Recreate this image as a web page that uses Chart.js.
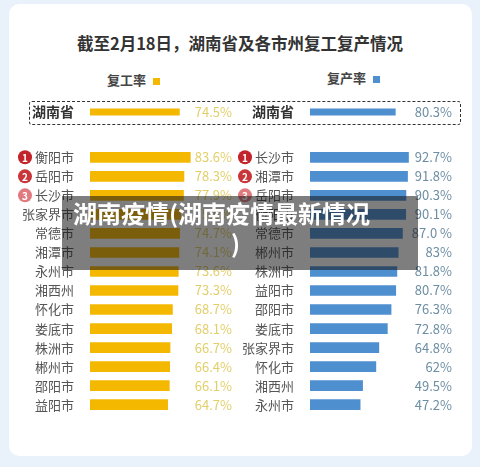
<!DOCTYPE html>
<html><head><meta charset="utf-8">
<script src="https://cdn.jsdelivr.net/npm/chart.js@4"></script>
<style>
body{margin:0;background:#e9f1fa;font-family:"Noto Sans CJK SC",sans-serif}
#wrap{position:relative;width:480px;height:467px;overflow:hidden}
#panel{position:absolute;left:9px;top:4px;width:463px;height:452px;background:#fff;border-radius:10px}
canvas{position:absolute}
.t{position:absolute;white-space:nowrap}
</style></head><body>
<div id="wrap">
<div id="panel"></div>
<div class="t" style="left:0;width:480px;top:31px;text-align:center;font-size:16.5px;font-weight:bold;color:#333">截至2月18日，湖南省及各市州复工复产情况</div>
<div class="t" style="left:107px;top:70px;font-size:13px;font-weight:bold;color:#444">复工率 <span style="display:inline-block;width:7px;height:7px;background:#f5b800;margin-left:4px"></span></div>
<div class="t" style="left:327px;top:68px;font-size:13px;font-weight:bold;color:#444">复产率 <span style="display:inline-block;width:7px;height:7px;background:#4e8fd0;margin-left:4px"></span></div>
<div style="position:absolute;left:29px;top:101px;width:430px;height:22px;border:1px dashed #333;border-radius:3px"></div>
<canvas id="lt" style="left:0;top:92px" width="240" height="40"></canvas>
<canvas id="rt" style="left:220px;top:92px" width="260" height="40"></canvas>
<canvas id="lc" style="left:0;top:132px" width="240" height="298"></canvas>
<canvas id="rc" style="left:220px;top:132px" width="260" height="298"></canvas>
<div style="position:absolute;left:62px;top:196px;width:356px;height:74px;background:rgba(20,20,20,0.55)"></div>
<div class="t" style="left:73px;top:198px;font-size:24px;font-weight:bold;color:#fff;line-height:30px">湖南疫情(湖南疫情最新情况<br><span style="margin-left:158px">)</span></div>
</div>
<script>
const provLabel = ['湖南省'];
const workProv = [74.5];
const prodProv = [80.3];
const workCities = ['衡阳市','岳阳市','长沙市','张家界市','常德市','湘潭市','永州市','湘西州','怀化市','娄底市','株洲市','郴州市','邵阳市','益阳市'];
const workRates = [83.6, 78.3, 77.9, 75.5, 74.7, 74.1, 73.6, 73.3, 68.7, 68.1, 66.7, 66.4, 66.1, 64.7];
const prodCities = ['长沙市','湘潭市','岳阳市','衡阳市','常德市','郴州市','株洲市','益阳市','邵阳市','娄底市','张家界市','怀化市','湘西州','永州市'];
const prodRates = [92.7, 91.8, 90.3, 90.1, 87.0, 83, 81.8, 80.7, 76.3, 72.8, 64.8, 62, 49.5, 47.2];
const prodText = ['92.7%','91.8%','90.3%','90.1%','87.0 %','83%','81.8%','80.7%','76.3%','72.8%','64.8%','62%','49.5%','47.2%'];

const badgeColors = ['#c3242b','#c8363a','#e17a7f'];

const extras = {
  id: 'extras',
  afterDatasetsDraw(chart, args, opts) {
    const {ctx} = chart;
    const meta = chart.getDatasetMeta(0);
    ctx.save();
    ctx.font = '13px "Noto Sans CJK SC"';
    ctx.textBaseline = 'middle';
    meta.data.forEach((bar, i) => {
      ctx.textAlign = 'right';
      ctx.fillStyle = opts.valColor;
      const v = chart.data.datasets[0].data[i];
      ctx.fillText(opts.texts ? opts.texts[i] : v + '%', opts.valX, bar.y);
      if (opts.badges && i < 3) {
        ctx.beginPath();
        ctx.arc(25, bar.y, 7, 0, Math.PI * 2);
        ctx.fillStyle = badgeColors[i];
        ctx.fill();
        ctx.fillStyle = '#fff';
        ctx.textAlign = 'center';
        ctx.font = 'bold 10px "Noto Sans CJK SC"';
        ctx.fillText(String(i + 1), 25, bar.y + 0.5);
        ctx.font = '13px "Noto Sans CJK SC"';
      }
    });
    ctx.restore();
  }
};

function makeChart(id, labels, values, color, max, valX, valColor, badges, bold, texts) {
  new Chart(document.getElementById(id), {
    type: 'bar',
    data: {labels, datasets: [{data: values, backgroundColor: color, barThickness: 10, borderWidth: 0}]},
    options: {
      indexAxis: 'y', responsive: false, animation: false,
      layout: {padding: 0},
      scales: {
        x: {display: false, min: 0, max},
        y: {
          grid: {display: false}, border: {display: false},
          afterFit(s) { s.width = 90; },
          ticks: {color: bold ? '#333' : '#555', padding: 8, autoSkip: false,
            font: {size: bold ? 14 : 13, weight: bold ? 'bold' : 'normal', family: '"Noto Sans CJK SC"'}}
        }
      },
      plugins: {legend: {display: false}, tooltip: {enabled: false},
        extras: {valX, valColor, badges, texts}}
    },
    plugins: [extras]
  });
}

makeChart('lt', provLabel, workProv, '#f5b800', 125, 232, '#e2cf6a', false, true);
makeChart('rt', provLabel, prodProv, '#4e8fd0', 160, 232, '#6d8ea3', false, true);
makeChart('lc', workCities, workRates, '#f5b800', 125, 232, '#e2cf6a', true, false);
makeChart('rc', prodCities, prodRates, '#4e8fd0', 160, 232, '#6d8ea3', true, false, prodText);
</script>
</body></html>
